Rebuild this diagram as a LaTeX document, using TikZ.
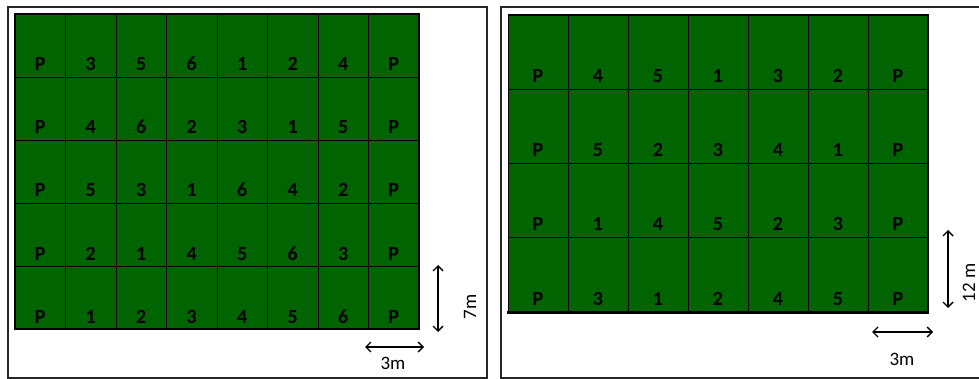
\documentclass[tikz,border=0pt]{standalone}
\usepackage{fontspec}
\setmainfont{Carlito}
\usepackage{tikz}
\usetikzlibrary{
  arrows.meta,
  positioning
}
\definecolor{plotgreen}{RGB}{0,100,0}
\tikzset{
  plotcell/.style={draw=black, fill=plotgreen, line width=0.6pt},
  plotlab/.style={anchor=base, inner sep=0pt, text=black,
    font=\fontsize{20}{24}\selectfont\bfseries},
  fieldframe/.style={draw=black!85, line width=1.2pt},
  dimarr/.style={{Straight Barb[length=5pt,width=10pt]}-{Straight Barb[length=5pt,width=10pt]},
    line width=1.4pt},
  dimlab/.style={inner sep=0pt, font=\fontsize{19}{23}\selectfont},
}

\begin{document}
\begin{tikzpicture}[x=1pt, y=-1pt]
  \useasboundingbox (0,0) rectangle (979,379);

  % Left field: 8 columns x 5 rows, 3m x 7m plots
  \draw[fieldframe] (8,7) rectangle (487,378);
  \foreach \row [count=\r] in {{P,3,5,6,1,2,4,P},{P,4,6,2,3,1,5,P},
      {P,5,3,1,6,4,2,P},{P,2,1,4,5,6,3,P},{P,1,2,3,4,5,6,P}}{
    \foreach \lab [count=\c] in \row {
      \draw[plotcell] ({15+(\c-1)*50.5},{14+(\r-1)*63}) rectangle ++(50.5,63);
      \node[plotlab] (la-\r-\c) at ({15+(\c-0.5)*50.5},{14+\r*63-6}) {\lab};
    }
  }
  \draw[line width=1.8pt] (15,14) rectangle (419,329);

  % Left dimensions
  \coordinate (la-vtop) at (438,265);
  \coordinate (la-vbot) at (438,332);
  \draw[dimarr] (la-vtop) -- (la-vbot);
  \node[dimlab, rotate=90] (la-vlab) at (470,307) {7m};
  \coordinate (la-hleft) at (365,347);
  \coordinate (la-hright) at (424,347);
  \draw[dimarr] (la-hleft) -- (la-hright);
  \node[dimlab] (la-hlab) at (393,363) {3m};

  % Right field: 7 columns x 4 rows, 3m x 12m plots
  \draw[fieldframe] (501,7) rectangle (981,378);
  \foreach \row [count=\r] in {{P,4,5,1,3,2,P},{P,5,2,3,4,1,P},
      {P,1,4,5,2,3,P},{P,3,1,2,4,5,P}}{
    \foreach \lab [count=\c] in \row {
      \draw[plotcell] ({508+(\c-1)*60},{15+(\r-1)*74.25}) rectangle ++(60,74.25);
      \node[plotlab] (ra-\r-\c) at ({508+(\c-0.5)*60},{15+\r*74.25-7}) {\lab};
    }
  }
  \draw[line width=1pt] (508,15) rectangle (928,312);
  \draw[line width=3pt] (507,312) -- (929,312);
  \draw[line width=2pt] (928,15) -- (928,312);

  % Right dimensions
  \coordinate (ra-vtop) at (948,230);
  \coordinate (ra-vbot) at (948,308);
  \draw[dimarr] (ra-vtop) -- (ra-vbot);
  \node[dimlab, rotate=90] (ra-vlab) at (969,283) {12 m};
  \coordinate (ra-hleft) at (872,332);
  \coordinate (ra-hright) at (933,332);
  \draw[dimarr] (ra-hleft) -- (ra-hright);
  \node[dimlab] (ra-hlab) at (902,359) {3m};
\end{tikzpicture}
\end{document}
